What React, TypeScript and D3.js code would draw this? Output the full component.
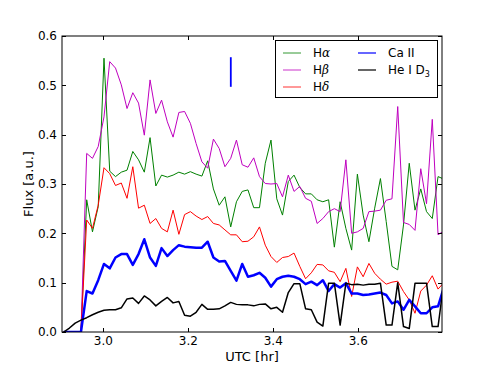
import { useEffect, useRef } from 'react'
import * as d3 from 'd3'

// UTC time of each spectrum (hours)
const UTC = [
  2.9067, 2.9203, 2.9338, 2.9474, 2.9609, 2.9745, 2.988, 3.0016, 3.0151, 3.0287,
  3.0423, 3.0558, 3.0694, 3.0829, 3.0965, 3.11, 3.1236, 3.1371, 3.1507, 3.1642,
  3.1778, 3.1913, 3.2049, 3.2184, 3.232, 3.2456, 3.2591, 3.2727, 3.2862, 3.2998,
  3.3133, 3.3269, 3.3404, 3.354, 3.3675, 3.3811, 3.3946, 3.4082, 3.4217, 3.4353,
  3.4488, 3.4624, 3.476, 3.4895, 3.5031, 3.5166, 3.5302, 3.5437, 3.5573, 3.5708,
  3.5844, 3.5979, 3.6115, 3.625, 3.6386, 3.6521, 3.6657, 3.6793, 3.6928, 3.7064,
  3.7199, 3.7335, 3.747, 3.7606, 3.7741, 3.7877, 3.8012,
]

const H_ALPHA = [
  0, 0, 0, 0, 0.268, 0.203, 0.254, 0.555, 0.326, 0.315,
  0.324, 0.328, 0.366, 0.349, 0.324, 0.394, 0.296, 0.318, 0.314, 0.318,
  0.324, 0.32, 0.325, 0.32, 0.316, 0.347, 0.29, 0.257, 0.274, 0.213,
  0.264, 0.285, 0.288, 0.252, 0.252, 0.342, 0.389, 0.27, 0.237, 0.305,
  0.318, 0.293, 0.28, 0.28, 0.268, 0.264, 0.268, 0.172, 0.264, 0.21,
  0.166, 0.32, 0.237, 0.183, 0.251, 0.311, 0.224, 0.133, 0.126, 0.217,
  0.342, 0.247, 0.29, 0.244, 0.23, 0.315, 0.31,
]

const H_BETA = [
  0, 0, 0, 0, 0.362, 0.352, 0.376, 0.436, 0.548, 0.535,
  0.501, 0.453, 0.485, 0.464, 0.399, 0.511, 0.443, 0.47, 0.426, 0.395,
  0.445, 0.447, 0.423, 0.382, 0.345, 0.332, 0.391, 0.372, 0.335, 0.352,
  0.389, 0.339, 0.334, 0.353, 0.315, 0.301, 0.3, 0.301, 0.274, 0.318,
  0.285, 0.295, 0.271, 0.265, 0.22, 0.23, 0.244, 0.25, 0.244, 0.349,
  0.2, 0.203, 0.21, 0.244, 0.245, 0.247, 0.267, 0.27, 0.457, 0.222,
  0.218, 0.206, 0.331, 0.26, 0.431, 0.197, 0.205,
]

const H_DELTA = [
  0, 0, 0, 0, 0.227, 0.21, 0.257, 0.333, 0.321, 0.297,
  0.302, 0.271, 0.335, 0.251, 0.257, 0.22, 0.23, 0.21, 0.203, 0.247,
  0.198, 0.238, 0.244, 0.235, 0.228, 0.234, 0.22, 0.217, 0.207, 0.197,
  0.197, 0.183, 0.184, 0.193, 0.213, 0.176, 0.153, 0.141, 0.151, 0.153,
  0.16, 0.133, 0.108, 0.12, 0.137, 0.136, 0.124, 0.121, 0.102, 0.129,
  0.072, 0.132, 0.112, 0.139, 0.119, 0.107, 0.097, 0.101, 0.103, 0.082,
  0.065, 0.038, 0.083, 0.095, 0.114, 0.087, 0.1,
]

const CA_II = [
  0, 0, 0, 0, 0.083, 0.078, 0.105, 0.138, 0.129, 0.151,
  0.158, 0.158, 0.136, 0.158, 0.188, 0.151, 0.134, 0.17, 0.154, 0.166,
  0.176, 0.173, 0.172, 0.171, 0.171, 0.183, 0.151, 0.143, 0.144, 0.124,
  0.104, 0.138, 0.112, 0.115, 0.12, 0.11, 0.092, 0.107, 0.112, 0.114,
  0.112, 0.107, 0.097, 0.102, 0.095, 0.105, 0.083, 0.097, 0.09, 0.099,
  0.078, 0.078, 0.075, 0.076, 0.078, 0.08, 0.075, 0.058, 0.062, 0.045,
  0.065, 0.052, 0.038, 0.038, 0.05, 0.052, 0.09,
]

const HE_I = [
  0, 0.008, 0.018, 0.024, 0.029, 0.035, 0.04, 0.044, 0.045, 0.045,
  0.049, 0.067, 0.069, 0.058, 0.073, 0.065, 0.053, 0.062, 0.07, 0.059,
  0.062, 0.034, 0.032, 0.04, 0.056, 0.046, 0.046, 0.047, 0.053, 0.06,
  0.056, 0.055, 0.055, 0.053, 0.056, 0.057, 0.047, 0.05, 0.04, 0.08,
  0.098, 0.098, 0.047, 0.045, 0.02, 0.012, 0.099, 0.099, 0.014, 0.099,
  0.096, 0.097, 0.095, 0.097, 0.097, 0.099, 0.014, 0.014, 0.1, 0.011,
  0.007, 0.099, 0.099, 0.099, 0.011, 0.011, 0.1,
]

// typical error bar drawn in the upper part of the plot
const ERR_TIME = 3.3
const ERR_RANGE = [0.497, 0.557]

const X_TICKS = [3.0, 3.2, 3.4, 3.6]
const Y_TICKS = [0, 0.1, 0.2, 0.3, 0.4, 0.5, 0.6]

const SERIES = [
  { base: 'H', greek: 'α', sub: '', values: H_ALPHA, color: '#008000', width: 1 },
  { base: 'H', greek: 'β', sub: '', values: H_BETA, color: '#bf00bf', width: 1 },
  { base: 'H', greek: 'δ', sub: '', values: H_DELTA, color: '#ff0000', width: 1 },
  { base: 'Ca II', greek: '', sub: '', values: CA_II, color: '#0000ff', width: 2.5 },
  { base: 'He I D', greek: '', sub: '3', values: HE_I, color: '#000000', width: 1.5 },
]

const FONT = 'DejaVu Sans, sans-serif'

export default function App() {
  const svgRef = useRef<SVGSVGElement>(null)

  useEffect(() => {
    if (!svgRef.current) return
    const svg = d3.select(svgRef.current)
    svg.selectAll('*').remove()

    const L = 62, R = 442, T = 36, B = 332

    const x = d3.scaleLinear().domain([2.9028, 3.797]).range([L, R])
    const y = d3.scaleLinear().domain([0, 0.6]).range([B, T])

    svg.append('rect').attr('width', 491).attr('height', 370).attr('fill', '#fff')

    svg.append('defs').append('clipPath').attr('id', 'plot-clip')
      .append('rect').attr('x', L).attr('y', T).attr('width', R - L).attr('height', B - T)

    const plot = svg.append('g').attr('clip-path', 'url(#plot-clip)')

    SERIES.forEach((s) => {
      const line = d3.line<number>()
        .x((_, i) => x(UTC[i]))
        .y((d) => y(d))
      plot.append('path')
        .datum(s.values)
        .attr('d', line)
        .attr('fill', 'none')
        .attr('stroke', s.color)
        .attr('stroke-width', s.width)
        .attr('stroke-linejoin', 'round')
    })

    // error bar
    plot.append('line')
      .attr('x1', x(ERR_TIME)).attr('x2', x(ERR_TIME))
      .attr('y1', y(ERR_RANGE[0])).attr('y2', y(ERR_RANGE[1]))
      .attr('stroke', '#0000ff').attr('stroke-width', 1.8)

    // frame
    svg.append('rect')
      .attr('x', L).attr('y', T).attr('width', R - L).attr('height', B - T)
      .attr('fill', 'none').attr('stroke', '#000').attr('stroke-width', 1)

    // ticks (inside, all four sides)
    const tickLen = 4
    Y_TICKS.forEach((t) => {
      const yy = Math.round(y(t)) + 0.5
      svg.append('line').attr('x1', L).attr('x2', L + tickLen).attr('y1', yy).attr('y2', yy)
        .attr('stroke', '#000')
      svg.append('line').attr('x1', R - tickLen).attr('x2', R).attr('y1', yy).attr('y2', yy)
        .attr('stroke', '#000')
      svg.append('text')
        .attr('x', L - 5).attr('y', y(t)).attr('dy', '0.35em')
        .attr('text-anchor', 'end').attr('font-family', FONT).attr('font-size', 12)
        .text(t.toFixed(1))
    })
    X_TICKS.forEach((t) => {
      const xx = Math.round(x(t)) + 0.5
      svg.append('line').attr('x1', xx).attr('x2', xx).attr('y1', B - tickLen).attr('y2', B)
        .attr('stroke', '#000')
      svg.append('line').attr('x1', xx).attr('x2', xx).attr('y1', T).attr('y2', T + tickLen)
        .attr('stroke', '#000')
      svg.append('text')
        .attr('x', x(t)).attr('y', B + 13)
        .attr('text-anchor', 'middle').attr('font-family', FONT).attr('font-size', 12)
        .text(t.toFixed(1))
    })

    // axis labels
    svg.append('text')
      .attr('x', (L + R) / 2).attr('y', 361)
      .attr('text-anchor', 'middle').attr('font-family', FONT).attr('font-size', 13)
      .text('UTC [hr]')
    svg.append('text')
      .attr('transform', `translate(33,${(T + B) / 2}) rotate(-90)`)
      .attr('text-anchor', 'middle').attr('font-family', FONT).attr('font-size', 13)
      .text('Flux [a.u.]')

    // legend, two columns
    const legend = svg.append('g')
    legend.append('rect')
      .attr('x', 275.5).attr('y', 40.5).attr('width', 162).attr('height', 57)
      .attr('fill', '#fff').attr('stroke', '#000').attr('stroke-width', 1)
    const rowY = [53, 70, 87]
    SERIES.forEach((s, i) => {
      const col = i < 3 ? 0 : 1
      const ly = rowY[col === 0 ? i : i - 3]
      const lx = col === 0 ? 283 : 358
      legend.append('line')
        .attr('x1', lx).attr('x2', lx + 18).attr('y1', ly).attr('y2', ly)
        .attr('stroke', s.color).attr('stroke-width', Math.min(s.width, 1.5))
        .attr('opacity', 0.8)
      const txt = legend.append('text')
        .attr('x', lx + 30).attr('y', ly).attr('dy', '0.35em')
        .attr('font-family', FONT).attr('font-size', 12)
      txt.append('tspan').text(s.base)
      if (s.greek) {
        txt.append('tspan')
          .attr('font-family', 'DejaVu Serif, serif').attr('font-style', 'italic')
          .text(s.greek)
      }
      if (s.sub) {
        txt.append('tspan').attr('font-size', 8).attr('dy', 3).text(s.sub)
      }
    })
  }, [])

  return (
    <svg
      ref={svgRef}
      width={491}
      height={370}
      style={{ position: 'absolute', left: 0, top: 0 }}
    />
  )
}
